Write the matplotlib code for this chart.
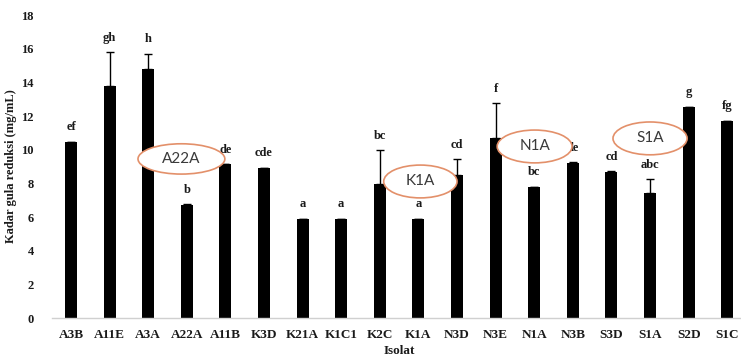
import matplotlib.pyplot as plt
from matplotlib.patches import Ellipse
import numpy as np

# Reducing sugar content per isolate (mg/mL), with upper error and Duncan letters
isolat = ['A3B', 'A11E', 'A3A', 'A22A', 'A11B', 'K3D', 'K21A', 'K1C1', 'K2C',
          'K1A', 'N3D', 'N3E', 'N1A', 'N3B', 'S3D', 'S1A', 'S2D', 'S1C']
kadar = [10.48, 13.8, 14.8, 6.7, 9.13, 8.93, 5.86, 5.86, 7.94,
         5.86, 8.5, 10.71, 7.76, 9.19, 8.66, 7.41, 12.56, 11.72]
galat = [0.0, 2.0, 0.9, 0.05, 0.0, 0.0, 0.05, 0.05, 2.04,
         0.05, 0.93, 2.05, 0.05, 0.05, 0.05, 0.85, 0.0, 0.0]
notasi = ['ef', 'gh', 'h', 'b', 'de', 'cde', 'a', 'a', 'bc',
          'a', 'cd', 'f', 'bc', 'de', 'cd', 'abc', 'g', 'fg']

# Highlighted isolates: label, centre (x, y), width, height
sorotan = [('A22A', 2.86, 9.45, 2.25, 1.8),
           ('K1A', 9.05, 8.11, 1.9, 1.95),
           ('N1A', 12.01, 10.19, 1.94, 1.95),
           ('S1A', 15.0, 10.67, 1.92, 1.95)]

serif = 'Liberation Serif'
ink = '#1a1a1a'

fig = plt.figure(figsize=(7.41, 3.58), dpi=100)
ax = fig.add_axes([0.0698, 0.1117, 0.9377, 0.8464])

x = np.arange(len(isolat))
ax.bar(x, kadar, width=0.31, color='black', zorder=2)
ax.errorbar(x, kadar, yerr=[np.zeros(len(galat)), galat], fmt='none',
            ecolor='black', elinewidth=1.0, capsize=3, capthick=1.0, zorder=1)

for xi, h, e, t in zip(x, kadar, galat, notasi):
    ax.text(xi, h + e + 0.5, t, ha='center', va='bottom', fontsize=9,
            fontweight='bold', family=serif, color=ink, zorder=3)

for teks, cx, cy, w, h in sorotan:
    ax.add_patch(Ellipse((cx, cy), w, h, facecolor='white',
                         edgecolor='#e3906a', linewidth=1.2, zorder=4))
    ax.text(cx, cy, teks, ha='center', va='center', fontsize=11,
            family='Lato', color='#3a3a3a', zorder=5)

ax.set_xlim(-0.5, len(isolat) - 0.5)
ax.set_ylim(0, 18)
ax.set_yticks(np.arange(0, 19, 2))
ax.set_xticks(x)
ax.set_xticklabels(isolat)

for lab in ax.get_xticklabels():
    lab.set_fontfamily(serif)
    lab.set_fontweight('bold')
    lab.set_fontsize(9.5)
for lab in ax.get_yticklabels():
    lab.set_fontfamily(serif)
    lab.set_fontweight('bold')
    lab.set_fontsize(9)

ax.tick_params(axis='both', length=0, colors=ink)
ax.tick_params(axis='x', pad=8)
ax.tick_params(axis='y', pad=13)

for side in ['top', 'right', 'left']:
    ax.spines[side].set_visible(False)
ax.spines['bottom'].set_color('#d0d0d0')
ax.spines['bottom'].set_linewidth(1.0)

ax.set_ylabel('Kadar gula reduksi (mg/mL)', fontsize=9, fontweight='bold',
              family=serif, color=ink, labelpad=3)
ax.set_xlabel('Isolat', fontsize=9.5, fontweight='bold', family=serif,
              color=ink, labelpad=3)

fig.savefig('out.png', dpi=100)
